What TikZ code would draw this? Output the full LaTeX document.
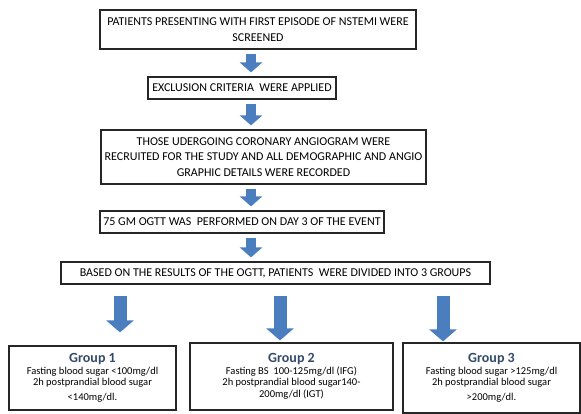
\documentclass[tikz,border=0pt]{standalone}
\usepackage{fontspec}
\setmainfont{Carlito}
\usepackage{xcolor}
\usetikzlibrary{arrows.meta}

\definecolor{arrowblue}{RGB}{74,126,190}
\definecolor{grouptitle}{RGB}{52,74,106}

\begin{document}
\begin{tikzpicture}
  [x=1pt,y=-1pt,
   every node/.style={draw=black!85,line width=1.2pt,fill=white,align=center,inner sep=0pt},
   stepbox/.style={font=\fontsize{12}{15.5}\selectfont},
   groupbox/.style={font=\fontsize{10.5}{11.5}\selectfont},
   flow/.style={draw=arrowblue,line width=10pt,-{Triangle[width=22pt,length=10pt]}},
   split/.style={draw=arrowblue,line width=13pt,-{Triangle[width=27pt,length=12pt]}}]
  \useasboundingbox (0,0) rectangle (581,414);

  \node[stepbox,minimum width=316pt,minimum height=39pt] (p1) at (258,29.5)
    {PATIENTS PRESENTING WITH FIRST EPISODE OF NSTEMI WERE\\SCREENED};
  \node[stepbox,minimum width=188pt,minimum height=22pt] (p2) at (242,88)
    {EXCLUSION CRITERIA\ \ WERE APPLIED};
  \node[stepbox,minimum width=325pt,minimum height=54pt] (p3) at (263.5,157)
    {THOSE UDERGOING CORONARY ANGIOGRAM WERE\\RECRUITED FOR THE STUDY AND ALL DEMOGRAPHIC AND ANGIO\\GRAPHIC DETAILS WERE RECORDED};
  \node[stepbox,minimum width=284pt,minimum height=22pt] (p4) at (242,222)
    {75 GM OGTT WAS\ \ PERFORMED ON DAY 3 OF THE EVENT};
  \node[stepbox,minimum width=429pt,minimum height=22pt] (p5) at (275.5,273)
    {BASED ON THE RESULTS OF THE OGTT, PATIENTS\ \ WERE DIVIDED INTO 3 GROUPS};

  \node[groupbox,minimum width=167pt,minimum height=64pt] (g1) at (92.5,378)
    {{\fontsize{14}{16}\selectfont\bfseries\color{grouptitle}Group 1}\\
     Fasting blood sugar {<}100mg/dl\\2h postprandial\ blood sugar\\[3pt]{<}140mg/dl.};
  \node[groupbox,minimum width=203pt,minimum height=67pt] (g2) at (291.5,376.5)
    {{\fontsize{14}{16}\selectfont\bfseries\color{grouptitle}Group 2}\\
     Fasting BS\ \ 100-125mg/dl (IFG)\\2h postprandial blood sugar140-\\200mg/dl (IGT)};
  \node[groupbox,minimum width=177pt,minimum height=70pt] (g3) at (491.5,378)
    {{\fontsize{14}{16}\selectfont\bfseries\color{grouptitle}Group 3}\\
     Fasting blood sugar {>}125mg/dl\\2h postprandial blood sugar\\[3pt]{>}200mg/dl.};

  % block arrows
  \coordinate (ax) at (251,0);
  \foreach \from/\to in {p1/p2, p2/p3, p3/p4, p4/p5}
    \draw[flow,shorten <=4pt,shorten >=4pt] (\from.south -| ax) -- (\to.north -| ax);

  \coordinate (s1) at (120,0);
  \coordinate (s2) at (280,0);
  \coordinate (s3) at (443,0);
  \foreach \at/\to/\gap in {s1/g1/13, s2/g2/2, s3/g3/1}
    \draw[split,shorten <=11pt,shorten >=\gap pt] (p5.south -| \at) -- (\to.north -| \at);

\end{tikzpicture}
\end{document}
